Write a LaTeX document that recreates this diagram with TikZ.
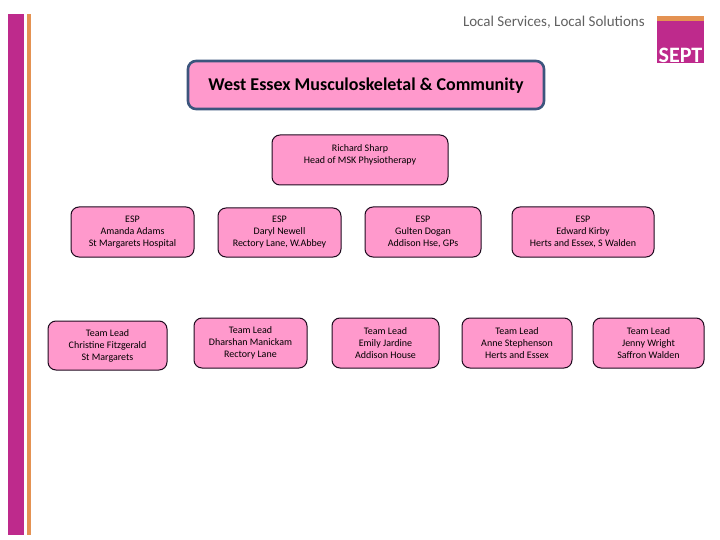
\documentclass[tikz,border=0pt]{standalone}
\usepackage{fontspec}
\setmainfont{Carlito}
\definecolor{boxpink}{RGB}{255,153,204}
\definecolor{barpurple}{RGB}{190,42,140}
\definecolor{barorange}{RGB}{228,146,82}
\definecolor{titleblue}{RGB}{60,85,125}
\definecolor{darkline}{RGB}{30,10,30}
\begin{document}
\begin{tikzpicture}[
            x=1pt, y=-1pt,
            box/.style={draw=darkline, rectangle, fill=boxpink, rounded corners=8pt, line width=1pt,
                       align=center, font=\fontsize{10}{12}\selectfont, inner sep=0pt},
            titlebox/.style={draw=titleblue, rectangle, fill=boxpink, rounded corners=8pt, line width=2.6pt,
                       align=center, font=\fontsize{18}{20}\selectfont\bfseries, inner sep=0pt},
            bar/.style={rectangle, draw=none, inner sep=0pt}
        ]
            \useasboundingbox (0,0) rectangle (720,540);
            % Side bars
            \node[bar, fill=barpurple, minimum width=16pt, minimum height=521pt] (purplebar) at (16,274.5) {};
            \node[bar, fill=barorange, minimum width=3.5pt, minimum height=521pt] (orangebar) at (29.2,274.5) {};

            % Logo and strapline
            \node[bar, fill=barpurple, minimum width=47pt, minimum height=47pt] (logo) at (680.5,39.5) {};
            \node[bar, fill=barorange, minimum width=47pt, minimum height=5pt] (logotop) at (680.5,18.5) {};
            \node[anchor=base, inner sep=0pt, text=white, font=\fontsize{22}{22}\selectfont\bfseries] (logotext) at (680.5,63) {SEPT};
            \node[anchor=east, inner sep=0pt, text=black!62, font=\fontsize{15}{18}\selectfont] (strapline) at (645,22) {Local Services, Local Solutions};

            % Title and head of service
            \node[titlebox, minimum width=356pt, minimum height=48pt] (title) at (366,85) {\raisebox{-5.5pt}[0pt][0pt]{West Essex Musculoskeletal \& Community}};
            \node[box, minimum width=176pt, minimum height=50pt] (head) at (360,160) {Richard Sharp\\Head of MSK Physiotherapy\\\mbox{}};

            % ESP row
            \node[box, minimum width=123pt, minimum height=50pt] (esp1) at (132.5,232) {ESP\\Amanda Adams\\St Margarets Hospital};
            \node[box, minimum width=123pt, minimum height=49pt] (esp2) at (279.5,232.5) {ESP\\Daryl Newell\\Rectory Lane, W.Abbey};
            \node[box, minimum width=116pt, minimum height=50pt] (esp3) at (423,232) {ESP\\Gulten Dogan\\Addison Hse, GPs};
            \node[box, minimum width=142pt, minimum height=50pt] (esp4) at (583,232) {ESP\\Edward Kirby\\Herts and Essex, S Walden};

            % Team lead row
            \node[box, minimum width=119pt, minimum height=49pt] (lead1) at (107.5,345.5) {Team Lead\\Christine Fitzgerald\\St Margarets};
            \node[box, minimum width=113pt, minimum height=50pt] (lead2) at (250.5,343) {Team Lead\\Dharshan Manickam\\Rectory Lane};
            \node[box, minimum width=107pt, minimum height=50pt] (lead3) at (385.5,343) {Team Lead\\Emily Jardine\\Addison House};
            \node[box, minimum width=110pt, minimum height=50pt] (lead4) at (517,343) {Team Lead\\Anne Stephenson\\Herts and Essex};
            \node[box, minimum width=111pt, minimum height=50pt] (lead5) at (648.5,343) {Team Lead\\Jenny Wright\\Saffron Walden};
        \end{tikzpicture}
\end{document}
